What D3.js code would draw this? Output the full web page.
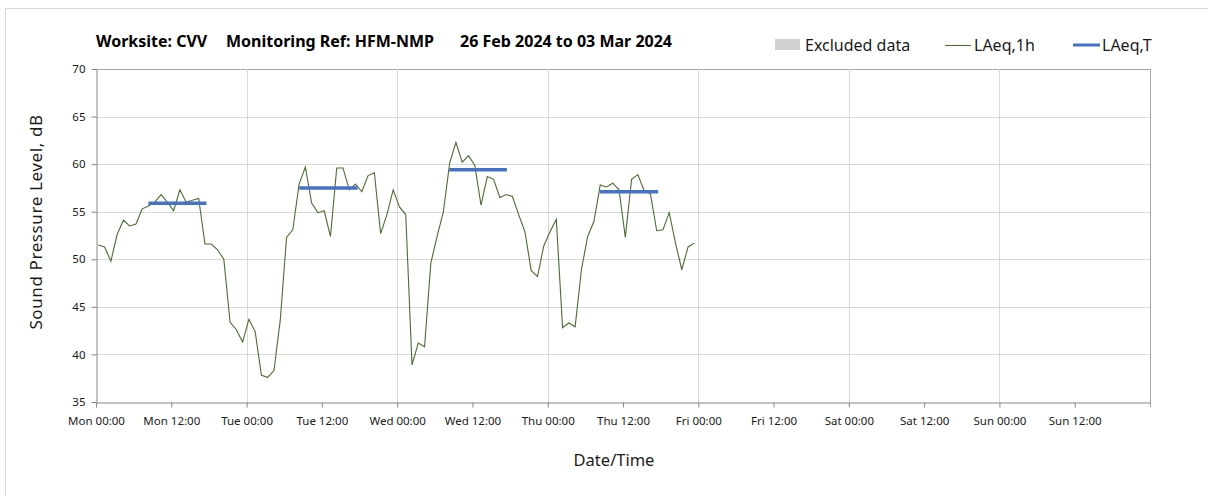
<!DOCTYPE html>
<html>
<head>
<meta charset="utf-8">
<script src="https://cdn.jsdelivr.net/npm/d3@7"></script>
<style>
  body { margin: 0; background: #fff; }
  #graph { width: 1208px; height: 496px; }
  text { font-family: "Noto Sans", "Open Sans", sans-serif; fill: #1a1a1a; }
</style>
</head>
<body>
<div id="graph"></div>
<script>
// Data ////////////////////////////////////////////////////////////////////////
// hourly LAeq,1h values, first reading ~00:22 Monday
const startOffset = 0.37;
const laeq1h = [
  51.5, 51.3, 49.8, 52.6, 54.1, 53.5, 53.7, 55.3, 55.6, 56.0, 56.8, 56.0,
  55.1, 57.3, 56.0, 56.2, 56.4, 51.6, 51.6, 51.0, 50.0, 43.4, 42.6, 41.3,
  43.7, 42.4, 37.8, 37.6, 38.3, 43.6, 52.3, 53.1, 57.9, 59.7, 55.9, 54.9,
  55.1, 52.4, 59.6, 59.6, 57.3, 57.9, 57.1, 58.8, 59.1, 52.7, 54.7, 57.3,
  55.5, 54.7, 38.9, 41.2, 40.8, 49.6, 52.4, 55.0, 60.1, 62.3, 60.2, 60.9,
  59.9, 55.7, 58.7, 58.4, 56.5, 56.8, 56.6, 54.7, 52.9, 48.8, 48.2, 51.4,
  52.9, 54.2, 42.8, 43.3, 42.9, 48.9, 52.4, 54.0, 57.8, 57.6, 58.0, 57.3,
  52.3, 58.4, 58.9, 57.2, 56.9, 53.0, 53.1, 54.9, 51.7, 48.9, 51.3, 51.7
];

// LAeq,T daytime periods (hours from Mon 00:00)
const periodStart = [8.35, 32.4, 56.3, 80.3];
const periodEnd = [17.6, 41.7, 65.5, 89.6];
const laeqT = [55.9, 57.5, 59.4, 57.1];

const xTickHours = d3.range(0, 168, 12);
const xTickLabels = [
  "Mon 00:00", "Mon 12:00", "Tue 00:00", "Tue 12:00", "Wed 00:00", "Wed 12:00",
  "Thu 00:00", "Thu 12:00", "Fri 00:00", "Fri 12:00", "Sat 00:00", "Sat 12:00",
  "Sun 00:00", "Sun 12:00"
];
const yTicks = [35, 40, 45, 50, 55, 60, 65, 70];

// Constants ///////////////////////////////////////////////////////////////////
const svgWidth = 1208;
const svgHeight = 496;
const plot = { left: 96, right: 1150, top: 69, bottom: 402 };
const lineColor = "#4e6b33";
const blue = "#4472c4";

const svg = d3
  .select("#graph")
  .append("svg")
  .attr("width", svgWidth)
  .attr("height", svgHeight);

// chart frame
svg
  .append("rect")
  .attr("x", 5.5)
  .attr("y", 8.5)
  .attr("width", 1220)
  .attr("height", 500)
  .style("fill", "none")
  .style("stroke", "#d9d9d9");

const x = d3.scaleLinear().domain([0, 168]).range([plot.left, plot.right]);
const y = d3.scaleLinear().domain([35, 70]).range([plot.bottom, plot.top]);

// Grid ////////////////////////////////////////////////////////////////////////
svg
  .append("g")
  .selectAll("line")
  .data(yTicks.slice(1))
  .join("line")
  .attr("x1", plot.left)
  .attr("x2", plot.right)
  .attr("y1", d => Math.round(y(d)) + 0.5)
  .attr("y2", d => Math.round(y(d)) + 0.5)
  .style("stroke", d => (d === 70 ? "#a6a6a6" : "#d9d9d9"));

svg
  .append("g")
  .selectAll("line")
  .data(d3.range(24, 168, 24))
  .join("line")
  .attr("x1", d => Math.round(x(d)) + 0.5)
  .attr("x2", d => Math.round(x(d)) + 0.5)
  .attr("y1", plot.top)
  .attr("y2", plot.bottom)
  .style("stroke", "#d9d9d9");

// right border of plot
svg
  .append("line")
  .attr("x1", plot.right + 0.5)
  .attr("x2", plot.right + 0.5)
  .attr("y1", plot.top)
  .attr("y2", plot.bottom + 5)
  .style("stroke", "#a6a6a6");

// Axes ////////////////////////////////////////////////////////////////////////
const xAxis = svg
  .append("g")
  .attr("transform", `translate(0, ${plot.bottom + 0.5})`)
  .call(
    d3
      .axisBottom(x)
      .tickValues(xTickHours)
      .tickSize(5)
      .tickSizeOuter(0)
      .tickFormat((d, i) => xTickLabels[i])
  );
xAxis.select(".domain").style("stroke", "#868686");
xAxis.selectAll(".tick line").style("stroke", "#868686");
xAxis
  .selectAll(".tick text")
  .attr("dy", "1.3em")
  .style("font-size", "11.5px")
  .style("font-family", "'Noto Sans', sans-serif")
  .style("fill", "#1a1a1a");

const yAxis = svg
  .append("g")
  .attr("transform", `translate(${plot.left + 0.5}, 0)`)
  .call(d3.axisLeft(y).tickValues(yTicks).tickSize(5).tickSizeOuter(0));
yAxis.select(".domain").style("stroke", "#868686");
yAxis.selectAll(".tick line").style("stroke", "#868686");
yAxis
  .selectAll(".tick text")
  .attr("x", -11)
  .style("font-size", "11.5px")
  .style("font-family", "'Noto Sans', sans-serif")
  .style("fill", "#1a1a1a");

// Axis titles
svg
  .append("text")
  .attr("transform", "translate(42, 222) rotate(-90)")
  .attr("text-anchor", "middle")
  .style("font-size", "17px")
  .style("letter-spacing", "0.6px")
  .text("Sound Pressure Level, dB");

svg
  .append("text")
  .attr("x", 614)
  .attr("y", 466)
  .attr("text-anchor", "middle")
  .style("font-size", "16.5px")
  .text("Date/Time");

// Series //////////////////////////////////////////////////////////////////////
const line = d3
  .line()
  .x((d, i) => x(i + startOffset))
  .y(d => y(d));

svg
  .append("path")
  .datum(laeq1h)
  .attr("d", line)
  .style("fill", "none")
  .style("stroke", lineColor)
  .style("stroke-width", 1.1);

svg
  .append("g")
  .selectAll("line")
  .data(laeqT)
  .join("line")
  .attr("x1", (d, i) => x(periodStart[i]))
  .attr("x2", (d, i) => x(periodEnd[i]))
  .attr("y1", d => y(d))
  .attr("y2", d => y(d))
  .style("stroke", blue)
  .style("stroke-width", 3.5);

// Title ///////////////////////////////////////////////////////////////////////
const titleParts = [
  { text: "Worksite: CVV", x: 96 },
  { text: "Monitoring Ref: HFM-NMP", x: 226 },
  { text: "26 Feb 2024 to 03 Mar 2024", x: 460 }
];
svg
  .append("g")
  .selectAll("text")
  .data(titleParts)
  .join("text")
  .attr("x", d => d.x)
  .attr("y", 47)
  .style("font-size", "16px")
  .style("font-weight", "bold")
  .style("fill", "#000")
  .text(d => d.text);

// Legend //////////////////////////////////////////////////////////////////////
const legend = svg.append("g").attr("transform", "translate(0, 45)");
legend
  .append("rect")
  .attr("x", 775)
  .attr("y", -6)
  .attr("width", 25)
  .attr("height", 11)
  .style("fill", "#d0d0d0");
legend.append("text").attr("x", 805).attr("y", 5.5).style("font-size", "16px").text("Excluded data");
legend
  .append("line")
  .attr("x1", 945)
  .attr("x2", 971)
  .attr("y1", 0.5)
  .attr("y2", 0.5)
  .style("stroke", lineColor)
  .style("stroke-width", 1.1);
legend.append("text").attr("x", 974).attr("y", 5.5).style("font-size", "16px").text("LAeq,1h");
legend
  .append("line")
  .attr("x1", 1073)
  .attr("x2", 1100)
  .attr("y1", 0)
  .attr("y2", 0)
  .style("stroke", blue)
  .style("stroke-width", 3);
legend.append("text").attr("x", 1102).attr("y", 5.5).style("font-size", "16px").text("LAeq,T");
</script>
</body>
</html>
